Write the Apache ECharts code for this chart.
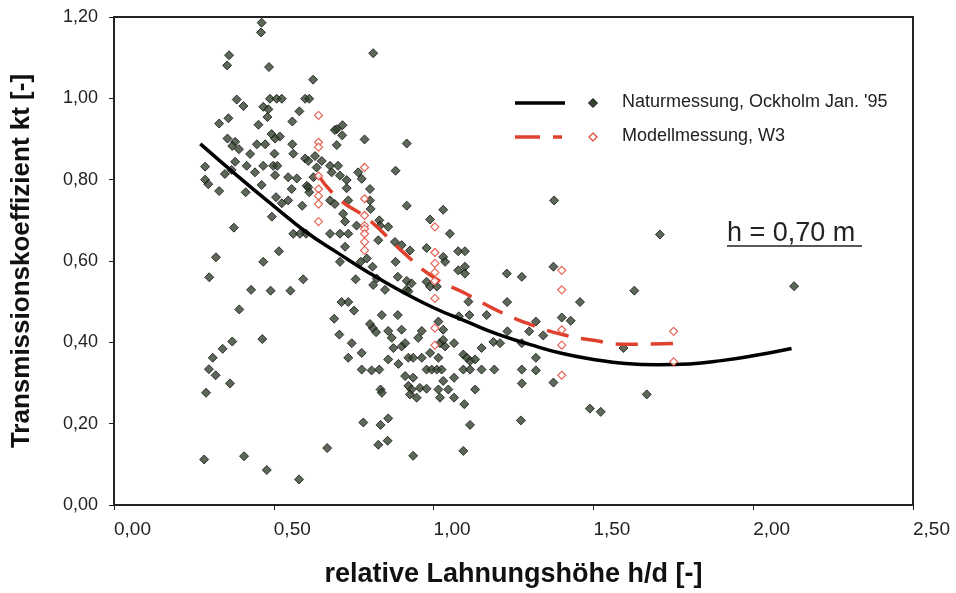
<!DOCTYPE html>
<html>
<head>
<meta charset="utf-8">
<script src="https://cdn.jsdelivr.net/npm/echarts@6/dist/echarts.min.js"></script>
<style>
html,body{margin:0;padding:0;background:#ffffff;}
#chart{width:956px;height:593px;}
</style>
</head>
<body>
<div id="chart"></div>
<script>
// Naturmessung (field measurements)
var natX = [0.462,0.460,0.360,0.354,0.485,0.623,0.811,0.384,0.405,0.488,0.509,0.525,0.598,0.611,0.467,0.483,0.480,0.580,0.358,0.329,
0.452,0.558,0.697,0.493,0.519,0.504,0.355,0.379,0.370,0.391,0.447,0.473,0.558,0.561,0.426,0.502,0.598,0.608,0.629,0.650,
0.634,0.697,0.379,0.415,0.467,0.498,0.511,0.285,0.368,0.347,0.441,0.504,0.545,0.572,0.676,0.701,0.681,0.624,0.285,0.295,
0.462,0.603,0.329,0.412,0.375,0.494,0.507,0.525,0.545,0.556,0.589,0.608,0.611,0.676,0.691,0.561,0.582,0.601,0.676,0.707,
0.733,0.516,0.723,0.319,0.467,0.298,0.592,0.429,0.490,0.552,0.392,0.707,0.756,0.712,0.733,0.751,0.689,0.705,0.744,0.733,
0.775,0.775,0.806,0.830,0.810,0.801,0.820,0.838,0.858,0.869,0.858,0.834,0.838,0.370,0.340,0.309,0.297,0.318,0.363,0.288,
0.464,0.780,0.834,0.858,0.827,0.856,0.667,0.282,0.407,0.478,0.579,0.822,0.811,0.848,0.772,0.791,0.809,0.881,0.888,0.888,
0.715,0.691,0.714,0.784,0.916,0.881,0.707,0.728,0.728,0.764,0.775,0.801,0.733,0.801,0.803,0.717,0.723,0.759,0.830,0.858,
0.832,0.827,0.879,0.900,0.926,0.916,0.989,1.030,1.051,0.978,1.077,1.098,1.030,1.036,1.098,0.916,0.931,0.916,0.921,0.978,
0.989,1.077,1.098,1.010,0.900,0.952,0.963,0.874,0.900,0.911,0.890,0.921,0.936,0.963,0.989,1.015,1.030,1.020,1.036,1.030,
1.064,1.015,0.978,0.994,1.010,1.025,0.911,0.936,0.921,0.931,0.926,0.947,0.957,0.978,1.030,1.015,1.020,1.046,1.064,1.064,
1.093,1.104,1.114,1.130,1.093,1.114,1.150,1.150,1.130,1.096,1.114,0.936,1.093,1.109,1.112,1.166,1.229,1.276,1.375,1.628,
1.458,1.401,1.429,1.320,1.343,1.299,1.230,1.231,1.079,1.187,1.208,1.276,1.320,1.276,1.320,1.190,1.276,1.375,1.273,1.594,
1.667,1.489,1.523,1.377,1.708,2.128];
var natY = [1.186,1.162,1.106,1.081,1.077,1.046,1.111,0.997,0.981,0.999,0.999,0.999,0.999,0.999,0.979,0.973,0.954,0.968,0.951,0.938,
0.935,0.943,0.924,0.912,0.906,0.901,0.901,0.893,0.883,0.875,0.887,0.887,0.887,0.864,0.863,0.864,0.852,0.846,0.858,0.846,
0.830,0.885,0.844,0.834,0.834,0.834,0.834,0.832,0.824,0.814,0.818,0.811,0.806,0.803,0.834,0.834,0.818,0.806,0.800,0.789,
0.787,0.785,0.772,0.769,0.682,0.709,0.757,0.742,0.749,0.777,0.736,0.781,0.769,0.749,0.740,0.667,0.667,0.667,0.667,0.667,
0.667,0.624,0.635,0.609,0.598,0.560,0.555,0.529,0.527,0.527,0.481,0.598,0.555,0.499,0.499,0.478,0.458,0.419,0.398,0.362,
0.374,0.333,0.331,0.333,0.435,0.445,0.425,0.467,0.428,0.411,0.358,0.284,0.276,0.402,0.384,0.362,0.334,0.319,0.299,0.276,
0.408,0.203,0.197,0.213,0.148,0.158,0.140,0.112,0.120,0.086,0.063,0.557,0.541,0.529,0.598,0.606,0.586,0.598,0.561,0.467,
0.934,0.922,0.909,0.899,0.889,0.822,0.810,0.799,0.779,0.818,0.802,0.777,0.749,0.749,0.728,0.716,0.697,0.687,0.700,0.684,
0.687,0.651,0.647,0.639,0.626,0.736,0.702,0.726,0.667,0.632,0.624,0.624,0.610,0.598,0.586,0.551,0.545,0.530,0.525,0.549,
0.537,0.577,0.569,0.537,0.431,0.411,0.428,0.386,0.390,0.398,0.347,0.362,0.362,0.362,0.374,0.451,0.431,0.398,0.390,0.406,
0.398,0.362,0.333,0.333,0.333,0.333,0.317,0.313,0.293,0.284,0.272,0.264,0.288,0.286,0.305,0.284,0.264,0.284,0.313,0.264,
0.370,0.362,0.354,0.358,0.333,0.333,0.386,0.333,0.284,0.248,0.197,0.121,0.133,0.500,0.467,0.467,0.569,0.561,0.586,0.527,
0.499,0.461,0.453,0.451,0.417,0.427,0.499,0.427,0.464,0.401,0.398,0.398,0.362,0.333,0.331,0.333,0.299,0.301,0.208,0.386,
0.272,0.237,0.229,0.749,0.665,0.538];

// Modellmessung W3 (model measurements)
var modX = [0.64,0.64,0.64,0.64,0.64,0.64,0.64,0.64,
0.784,0.784,0.784,0.784,0.784,0.784,0.784,0.784,
1.004,1.004,1.004,1.004,1.004,1.004,1.004,1.004,
1.401,1.401,1.401,1.401,1.401,
1.751,1.751];
var modY = [0.958,0.892,0.880,0.809,0.777,0.760,0.740,0.697,
0.830,0.753,0.712,0.687,0.679,0.667,0.647,0.626,
0.684,0.621,0.594,0.572,0.551,0.508,0.435,0.393,
0.577,0.529,0.431,0.393,0.319,
0.427,0.352];

// Trend curves
var natTrendX = [0.27,0.40,0.50,0.60,0.70,0.80,0.90,1.00,1.10,1.20,1.30,1.40,1.50,1.60,1.70,1.80,1.90,2.00,2.12];
var natTrendY = [0.888,0.800,0.735,0.672,0.620,0.570,0.525,0.485,0.452,0.420,0.395,0.373,0.358,0.348,0.345,0.347,0.355,0.367,0.385];
var modTrendX = [0.64,0.70,0.80,0.90,1.00,1.10,1.20,1.30,1.40,1.50,1.60,1.75];
var modTrendY = [0.810,0.755,0.700,0.625,0.560,0.520,0.478,0.445,0.420,0.405,0.395,0.397];

var legendNames = ["Naturmessung, Ockholm Jan. '95", "Modellmessung, W3"];
var annotation = "h = 0,70 m";
var xTitle = "relative Lahnungshöhe h/d [-]";
var yTitle = "Transmissionskoeffizient kt [-]";

function zip(a, b) { return a.map(function (v, i) { return [v, b[i]]; }); }
function fmt(v) { return v.toFixed(2).replace('.', ','); }

var FONT = 'Liberation Sans, Arial, sans-serif';
var GREEN = '#34432e';
var RED = '#e0402e';

var chart = echarts.init(document.getElementById('chart'));
chart.setOption({
  backgroundColor: '#ffffff',
  animation: false,
  grid: { left: 114, right: 43, top: 17, bottom: 85, show: true, borderColor: '#222', borderWidth: 2, backgroundColor: 'transparent' },
  xAxis: {
    type: 'value', min: 0, max: 2.5, interval: 0.5,
    name: xTitle, nameLocation: 'middle', nameGap: 56,
    nameTextStyle: { fontFamily: FONT, fontWeight: 'bold', fontSize: 27, color: '#111' },
    axisLine: { show: true, lineStyle: { color: '#222', width: 2 } },
    axisTick: { show: true, length: 5, lineStyle: { color: '#222', width: 1 } },
    axisLabel: { formatter: fmt, fontFamily: FONT, fontSize: 19, color: '#222', margin: 15, align: 'left' },
    splitLine: { show: false }
  },
  yAxis: {
    type: 'value', min: 0, max: 1.2, interval: 0.2,
    name: yTitle, nameLocation: 'middle', nameGap: 79, nameRotate: 90,
    nameTextStyle: { fontFamily: FONT, fontWeight: 'bold', fontSize: 26, color: '#111' },
    axisLine: { show: true, lineStyle: { color: '#222', width: 2 } },
    axisTick: { show: true, length: 5, lineStyle: { color: '#222', width: 1 } },
    axisLabel: { formatter: fmt, fontFamily: FONT, fontSize: 18, color: '#222', margin: 16 },
    splitLine: { show: false }
  },
  series: [
    { type: 'line', data: zip(natTrendX, natTrendY), smooth: true, symbol: 'none',
      lineStyle: { color: '#000', width: 3.5 }, z: 3 },
    { type: 'line', data: zip(modTrendX, modTrendY), smooth: true, symbol: 'none',
      lineStyle: { color: RED, width: 3.5, type: [22, 13] }, z: 4 },
    { type: 'scatter', name: legendNames[0], data: zip(natX, natY), symbol: 'diamond', symbolSize: 9,
      itemStyle: { color: GREEN, borderColor: '#111', borderWidth: 1 }, z: 2 },
    { type: 'scatter', name: legendNames[1], data: zip(modX, modY), symbol: 'diamond', symbolSize: 8,
      itemStyle: { color: '#fff', borderColor: RED, borderWidth: 1.2 }, z: 5 }
  ],
  graphic: [
    { type: 'line', shape: { x1: 515, y1: 103, x2: 565, y2: 103 }, style: { stroke: '#000', lineWidth: 3.5 } },
    { type: 'polygon', shape: { points: [[593, 98.5], [597.5, 103], [593, 107.5], [588.5, 103]] }, style: { fill: GREEN, stroke: '#111', lineWidth: 1 } },
    { type: 'text', left: 622, top: 93, style: { text: legendNames[0], font: '18px ' + FONT, fill: '#222' } },
    { type: 'line', shape: { x1: 515, y1: 137, x2: 540, y2: 137 }, style: { stroke: RED, lineWidth: 3.5 } },
    { type: 'line', shape: { x1: 553, y1: 137, x2: 562, y2: 137 }, style: { stroke: RED, lineWidth: 3.5 } },
    { type: 'polygon', shape: { points: [[593, 133], [597, 137], [593, 141], [589, 137]] }, style: { fill: '#fff', stroke: RED, lineWidth: 1.2 } },
    { type: 'text', left: 622, top: 127, style: { text: legendNames[1], font: '18px ' + FONT, fill: '#222' } },
    { type: 'text', left: 727, top: 220, style: { text: annotation, font: '27px ' + FONT, fill: '#222' } },
    { type: 'line', shape: { x1: 727, y1: 246, x2: 862, y2: 246 }, style: { stroke: '#222', lineWidth: 1.5 } }
  ]
});
</script>
</body>
</html>
